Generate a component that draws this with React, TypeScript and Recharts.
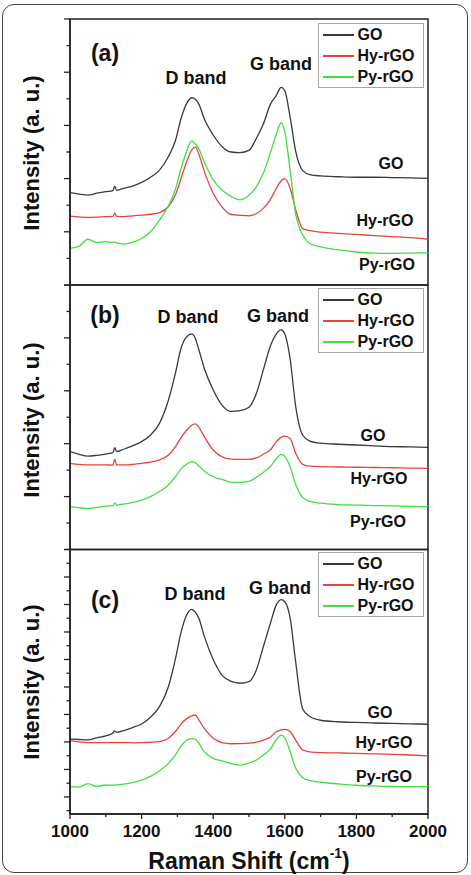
import React from 'react';
import { LineChart, Line, XAxis, YAxis, Legend, ReferenceArea } from 'recharts';

// Raman shift grid (cm-1), shared by every trace
const shift = [
  1000, 1025, 1050, 1075, 1100, 1120, 1125, 1130, 1150, 1175,
  1200, 1225, 1250, 1275, 1295, 1310, 1325, 1340, 1350, 1360,
  1375, 1400, 1425, 1450, 1475, 1500, 1520, 1540, 1560, 1575,
  1590, 1600, 1615, 1630, 1650, 1670, 1700, 1750, 1800, 1850,
  1900, 1950, 2000,
];

// panel (a)
const goA = [
  3.47, 3.42, 3.38, 3.45, 3.51, 3.55, 3.72, 3.56, 3.63, 3.72,
  3.86, 4.05, 4.32, 4.83, 5.45, 6.25, 6.8, 7.04, 6.98, 6.8,
  6.25, 5.64, 5.2, 5.0, 4.98, 5.06, 5.5, 6.05, 6.8, 7.1,
  7.43, 7.3, 6.3, 5.05, 4.3, 4.15, 4.1, 4.07, 4.05, 4.05,
  4.04, 4.03, 4.01,
];
const hyA = [
  2.59, 2.56, 2.54, 2.55, 2.57, 2.58, 2.7, 2.58, 2.57, 2.6,
  2.63, 2.66, 2.72, 2.95, 3.4, 4.0, 4.6, 5.08, 5.18, 4.92,
  4.28, 3.45, 2.93, 2.65, 2.62, 2.6, 2.68, 2.88, 3.22, 3.6,
  3.92, 4.0, 3.63, 2.85, 2.12, 2.04, 1.99, 1.94, 1.9, 1.86,
  1.82, 1.78, 1.72,
];
const pyA = [
  1.38, 1.45, 1.72, 1.6, 1.63, 1.6, 1.62, 1.58, 1.54, 1.6,
  1.75, 2.0, 2.44, 2.98, 3.62, 4.37, 5.0, 5.42, 5.3, 5.12,
  4.63, 3.95, 3.56, 3.33, 3.2, 3.37, 3.68, 4.2, 4.98, 5.62,
  6.1, 5.75, 4.3, 2.7, 1.88, 1.56, 1.43, 1.32, 1.24, 1.2,
  1.19, 1.2, 1.21,
];

// panel (b)
const goB = [
  3.7, 3.6, 3.53, 3.56, 3.61, 3.66, 3.85, 3.7, 3.79, 3.92,
  4.08, 4.33, 4.77, 5.65, 6.7, 7.6, 8.03, 8.15, 7.98, 7.55,
  6.85, 6.03, 5.45, 5.22, 5.25, 5.38, 5.88, 6.79, 7.7, 8.12,
  8.3, 8.15, 7.2, 5.45, 4.32, 4.1, 4.02, 3.98, 3.95, 3.92,
  3.89, 3.88, 3.86,
];
const hyB = [
  3.26, 3.22, 3.2, 3.2, 3.2, 3.19, 3.42, 3.2, 3.2, 3.22,
  3.26, 3.3, 3.39, 3.57, 3.9, 4.23, 4.5, 4.7, 4.75, 4.62,
  4.27, 3.76, 3.5, 3.42, 3.41, 3.41, 3.46, 3.6, 3.77, 4.05,
  4.25, 4.29, 4.2, 3.65, 3.22, 3.15, 3.13, 3.12, 3.11, 3.1,
  3.09, 3.08, 3.07,
];
const pyB = [
  1.62, 1.58, 1.55, 1.58, 1.64, 1.66, 1.76, 1.68, 1.72, 1.78,
  1.87, 2.0, 2.19, 2.44, 2.76, 3.04, 3.22, 3.32, 3.28, 3.16,
  2.97, 2.75, 2.65, 2.54, 2.54, 2.58, 2.72, 2.92, 3.14, 3.42,
  3.6, 3.52, 3.12, 2.48, 1.97, 1.82, 1.75, 1.7, 1.68, 1.66,
  1.65, 1.63, 1.62,
];

// panel (c)
const goC = [
  5.22, 5.18, 5.15, 5.3, 5.44, 5.65, 5.8, 5.7, 5.83, 6.05,
  6.31, 6.8, 7.57, 9.03, 11.1, 12.95, 14.2, 14.65, 14.45, 14.0,
  12.7, 11.0, 9.85, 9.4, 9.27, 9.39, 10.2, 11.93, 13.65, 14.9,
  15.35, 15.2, 14.0, 10.9, 7.4, 6.85, 6.58, 6.47, 6.42, 6.38,
  6.35, 6.32, 6.29,
];
const hyC = [
  5.1, 5.0, 4.95, 4.95, 4.95, 4.95, 4.95, 4.95, 4.95, 4.94,
  4.95, 4.98, 5.03, 5.27, 5.78, 6.3, 6.68, 6.9, 6.96, 6.6,
  5.98, 5.27, 4.95, 4.87, 4.88, 4.91, 4.98, 5.13, 5.36, 5.72,
  5.88, 5.92, 5.75, 5.15, 4.42, 4.28, 4.22, 4.2, 4.17, 4.14,
  4.1, 4.05, 3.99,
];
const pyC = [
  1.75, 1.72, 1.97, 1.76, 1.87, 1.86, 1.87, 1.88, 1.94, 2.05,
  2.23, 2.5, 2.91, 3.44, 4.08, 4.7, 5.1, 5.25, 5.2, 4.9,
  4.3, 3.81, 3.62, 3.42, 3.32, 3.47, 3.68, 4.05, 4.5, 5.1,
  5.5, 5.3, 4.3, 3.1, 2.4, 2.2, 2.07, 1.95, 1.85, 1.8,
  1.76, 1.75, 1.75,
];

const xTicks = [1000, 1100, 1200, 1300, 1400, 1500, 1600, 1700, 1800, 1900, 2000];
const yTicksAB = [0, 1, 2, 3, 4, 5, 6, 7, 8, 9, 10];
const yTicksC = [0, 1, 2, 3, 4, 5, 6, 7, 8, 9, 10, 11, 12, 13, 14, 15, 16, 17, 18, 19];

const FONT = '"Liberation Sans", Arial, Helvetica, sans-serif';
const AX = '#222';
const C_GO = '#3a3a3a';
const C_HY = '#e8433e';
const C_PY = '#3fe03c';

const build = (go: number[], hy: number[], py: number[]) =>
  shift.map((x, i) => ({ x, go: go[i], hy: hy[i], py: py[i] }));

const leftTick = (p: any, parity: number) => {
  const major = Math.round(p.payload.value) % 2 === parity;
  const len = major ? 6 : 3.5;
  return <line x1={p.x} x2={p.x - len} y1={p.y} y2={p.y} stroke={AX} strokeWidth={1.3} />;
};

const bottomTick = (p: any) => {
  const v = p.payload.value;
  const major = v % 200 === 0;
  return (
    <g>
      <line x1={p.x} x2={p.x} y1={p.y} y2={p.y + (major ? 5 : 3)} stroke={AX} strokeWidth={1.3} />
      {major && (
        <text x={p.x} y={p.y + 11} dy="0.71em" textAnchor="middle" fontFamily={FONT} fontWeight={700} fontSize={17} fill="#111">
          {v}
        </text>
      )}
    </g>
  );
};

const LegendBox = (props: any) => (
  <div style={{ border: '1.5px solid #a8a8a8', background: '#fff', padding: '0 4px 0 3.5px', fontFamily: FONT, fontWeight: 700, fontSize: 16, color: '#111', lineHeight: '21px' }}>
    {(props.payload || []).map((it: any) => (
      <div key={it.value} style={{ display: 'flex', alignItems: 'center', whiteSpace: 'nowrap' }}>
        <span style={{ display: 'inline-block', width: 31, height: 2, background: it.color, marginRight: 4 }} />
        {it.value}
      </div>
    ))}
  </div>
);

const Txt = ({ cx, cy, size, children, rotate }: any) => (
  <div
    style={{
      position: 'absolute', left: cx, top: cy, fontFamily: FONT, fontWeight: 700, fontSize: size,
      lineHeight: 1, color: '#111', whiteSpace: 'nowrap',
      transform: `translate(-50%, -50%)${rotate ? ' rotate(-90deg)' : ''}`,
    }}
  >
    {children}
  </div>
);

function Panel({ data, top, height, margin, yDomain, yTicks, parity, bottom, legendTop }: any) {
  return (
    <div style={{ position: 'absolute', left: 0, top, width: 471, height }}>
      <LineChart width={471} height={height} data={data} margin={margin}>
        <XAxis
          xAxisId="b" dataKey="x" type="number" domain={[1000, 2000]} ticks={xTicks} interval={0}
          allowDataOverflow height={bottom ? 61 : 0} tickLine={false} tickSize={0} tickMargin={0}
          axisLine={{ stroke: AX, strokeWidth: 1.5 }} tick={bottom ? bottomTick : false}
        />
        <YAxis
          yAxisId="l" type="number" domain={yDomain} ticks={yTicks} interval={0} allowDataOverflow
          width={70} tickLine={false} tickSize={0} tickMargin={0}
          axisLine={{ stroke: AX, strokeWidth: 1.5 }} tick={(p: any) => leftTick(p, parity)}
        />
        {/* frame round the plot area */}
        <ReferenceArea
          xAxisId="b" yAxisId="l" x1={1000} x2={2000} y1={yDomain[0]} y2={yDomain[1]}
          fill="none" stroke={AX} strokeWidth={1.5} ifOverflow="visible"
        />
        <Legend
          layout="vertical" align="center" verticalAlign="middle" content={LegendBox}
          wrapperStyle={{ left: 318, top: legendTop, width: 106, height: 'auto' }}
        />
        <Line xAxisId="b" yAxisId="l" dataKey="go" name="GO" type="monotone" stroke={C_GO} strokeWidth={1.3} dot={false} isAnimationActive={false} />
        <Line xAxisId="b" yAxisId="l" dataKey="hy" name="Hy-rGO" type="monotone" stroke={C_HY} strokeWidth={1.3} dot={false} isAnimationActive={false} />
        <Line xAxisId="b" yAxisId="l" dataKey="py" name="Py-rGO" type="monotone" stroke={C_PY} strokeWidth={1.3} dot={false} isAnimationActive={false} />
      </LineChart>
    </div>
  );
}

export default function App() {
  return (
    <div style={{ position: 'absolute', left: 0, top: 0, width: 471, height: 875, background: '#fff', overflow: 'hidden' }}>
      <div style={{ position: 'absolute', left: 2, top: 4, width: 466, height: 869, border: '1.5px solid #444', borderRadius: 12, boxSizing: 'border-box' }} />

      <Panel data={build(goA, hyA, pyA)} top={0} height={290} margin={{ top: 19, right: 43, bottom: 5, left: 0 }}
        yDomain={[0, 10]} yTicks={yTicksAB} parity={0} bottom={false} legendTop={23} />
      <Panel data={build(goB, hyB, pyB)} top={280} height={275} margin={{ top: 5, right: 43, bottom: 5.5, left: 0 }}
        yDomain={[0, 10]} yTicks={yTicksAB} parity={0} bottom={false} legendTop={8} />
      <Panel data={build(goC, hyC, pyC)} top={540} height={335} margin={{ top: 9.5, right: 43, bottom: 0, left: 0 }}
        yDomain={[-0.24, 19]} yTicks={yTicksC} parity={1} bottom legendTop={12} />

      <Txt cx={105} cy={53} size={23}>(a)</Txt>
      <Txt cx={196} cy={78} size={18}>D band</Txt>
      <Txt cx={281} cy={64} size={18}>G band</Txt>
      <Txt cx={391} cy={164} size={16}>GO</Txt>
      <Txt cx={385} cy={221} size={16}>Hy-rGO</Txt>
      <Txt cx={387} cy={265} size={16}>Py-rGO</Txt>

      <Txt cx={105} cy={315} size={23}>(b)</Txt>
      <Txt cx={188} cy={317} size={18}>D band</Txt>
      <Txt cx={278} cy={316} size={18}>G band</Txt>
      <Txt cx={373} cy={436} size={16}>GO</Txt>
      <Txt cx={379} cy={479} size={16}>Hy-rGO</Txt>
      <Txt cx={378} cy={522} size={16}>Py-rGO</Txt>

      <Txt cx={105} cy={600} size={23}>(c)</Txt>
      <Txt cx={195} cy={594} size={18}>D band</Txt>
      <Txt cx={280} cy={588} size={18}>G band</Txt>
      <Txt cx={380} cy={713} size={16}>GO</Txt>
      <Txt cx={384} cy={743} size={16}>Hy-rGO</Txt>
      <Txt cx={384} cy={777} size={16}>Py-rGO</Txt>

      <Txt cx={32} cy={153} size={22} rotate>Intensity (a. u.)</Txt>
      <Txt cx={32} cy={420} size={22} rotate>Intensity (a. u.)</Txt>
      <Txt cx={32} cy={682} size={22} rotate>Intensity (a. u.)</Txt>

      <Txt cx={249} cy={860} size={23}>
        Raman Shift (cm<sup style={{ fontSize: '0.6em', verticalAlign: '0.75em' }}>-1</sup>)
      </Txt>
    </div>
  );
}
